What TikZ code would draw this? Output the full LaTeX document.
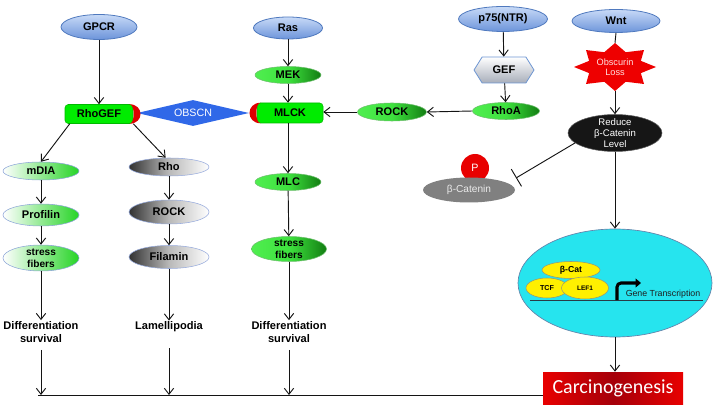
\documentclass[tikz,border=0pt]{standalone}
\usepackage{fontspec}
\setmainfont{Liberation Sans}
\newfontfamily\carlito{Carlito}
\usetikzlibrary{shapes.geometric,shapes.symbols,arrows.meta}

\begin{document}
\begin{tikzpicture}[x=0.75pt,y=0.75pt,yscale=-1,xscale=1,
    lbl/.style={font=\bfseries\fontsize{8.3}{9.8}\selectfont, align=center},
    sml/.style={font=\bfseries\fontsize{7.6}{9}\selectfont, align=center},
    blu/.style={ellipse, draw={rgb, 255:red, 79; green, 121; blue, 190}, line width=0.6pt, top color={rgb, 255:red, 200; green, 218; blue, 247}, bottom color={rgb, 255:red, 108; green, 148; blue, 218}, inner sep=0pt, lbl},
    grn/.style={ellipse, draw={rgb, 255:red, 110; green, 190; blue, 110}, line width=0.4pt, left color={rgb, 255:red, 80; green, 238; blue, 80}, right color={rgb, 255:red, 18; green, 125; blue, 18}, middle color={rgb, 255:red, 62; green, 226; blue, 62}, inner sep=0pt, lbl},
    lgrn/.style={ellipse, draw={rgb, 255:red, 140; green, 165; blue, 215}, line width=0.4pt, left color=white, right color={rgb, 255:red, 38; green, 212; blue, 38}, inner sep=0pt, lbl},
    gry/.style={ellipse, draw={rgb, 255:red, 150; green, 170; blue, 220}, line width=0.4pt, left color={rgb, 255:red, 50; green, 50; blue, 50}, right color=white, middle color={rgb, 255:red, 185; green, 185; blue, 185}, inner sep=0pt, lbl},
    gbox/.style={rectangle, rounded corners=2.5pt, fill={rgb, 255:red, 0; green, 236; blue, 0}, draw={rgb, 255:red, 0; green, 185; blue, 0}, line width=0.4pt, inner sep=0pt, lbl},
    redcap/.style={fill={rgb, 255:red, 222; green, 0; blue, 0}},
    hexa/.style={signal, signal to=east and west, signal pointer angle=116, draw={rgb, 255:red, 110; green, 150; blue, 210}, line width=0.6pt, top color=white, bottom color={rgb, 255:red, 168; green, 174; blue, 186}, inner sep=0pt, lbl},
    yel/.style={ellipse, fill={rgb, 255:red, 255; green, 240; blue, 0}, draw={rgb, 255:red, 150; green, 150; blue, 120}, line width=0.4pt, inner sep=0pt},
    txt/.style={font=\bfseries\fontsize{8.3}{9.8}\selectfont, align=center, inner sep=0.75pt},
    arr/.style={draw={rgb, 255:red, 20; green, 20; blue, 20}, line width=0.7pt, -{Straight Barb[length=4.5pt,width=7pt]}},
    inhib/.style={draw={rgb, 255:red, 20; green, 20; blue, 20}, line width=0.7pt, -{Bar[width=15pt]}}
  ]
\useasboundingbox (0,0) rectangle (716,409);

%Shape: Diamond
\draw (193,113) node [diamond, fill={rgb, 255:red, 48; green, 104; blue, 232}, inner sep=0pt, minimum width=84pt, minimum height=19.5pt, label={[font=\fontsize{8}{9}\selectfont, text=white]center:OBSCN}] (obscn) {};

%Shape: Ellipse
\draw (99,27) node [blu, minimum width=57pt, minimum height=18.75pt] (gpcr) {GPCR};
\draw (288,28) node [blu, minimum width=51.75pt, minimum height=16.5pt] (ras) {Ras};
\draw (503,19) node [blu, minimum width=66.75pt, minimum height=18.75pt] (p75) {p75(NTR)};
\draw (616,21) node [blu, minimum width=66pt, minimum height=17.25pt] (wnt) {Wnt};

%Shape: Rounded Rect
\draw (99,114) node [gbox, minimum width=51pt, minimum height=14.25pt] (rhogef) {RhoGEF};
\draw (290,113) node [gbox, minimum width=49.5pt, minimum height=15pt] (mlck) {MLCK};
\fill [redcap] ([xshift=-3pt]rhogef.north east) .. controls +(15,0) and +(15,0) .. ([xshift=-3pt]rhogef.south east) .. controls +(6,0) and +(6,0) .. cycle;
\fill [redcap] ([xshift=3pt]mlck.north west) .. controls +(-15,0) and +(-15,0) .. ([xshift=3pt]mlck.south west) .. controls +(-6,0) and +(-6,0) .. cycle;

%Shape: Ellipse
\draw (41,171) node [lgrn, minimum width=57pt, minimum height=13.5pt] (mdia) {mDIA};
\draw (41,215) node [lgrn, minimum width=57pt, minimum height=16.5pt] (prof) {Profilin};
\draw (41,258) node [lgrn, minimum width=57pt, minimum height=19.5pt, label={[sml]center:stress\\fibers}] (sf1) {};

\draw (169,167) node [gry, minimum width=60pt, minimum height=13.5pt] (rho) {Rho};
\draw (169,212) node [gry, minimum width=60pt, minimum height=18pt] (rock1) {ROCK};
\draw (169,257) node [gry, minimum width=60pt, minimum height=17.25pt] (fil) {Filamin};

\draw (288,75) node [grn, minimum width=49.5pt, minimum height=12.75pt] (mek) {MEK};
\draw (288,182) node [grn, minimum width=49.5pt, minimum height=12.75pt] (mlc) {MLC};
\draw (289,249) node [grn, minimum width=56.25pt, minimum height=18.75pt, label={[sml]center:stress\\fibers}] (sf2) {};

%Shape: Hexagon
\draw (504,70) node [hexa, minimum width=45pt, minimum height=19.5pt] (gef) {GEF};
\draw (506,111) node [grn, minimum width=50.25pt, minimum height=12.75pt] (rhoa) {RhoA};
\draw (392,112) node [grn, minimum width=51.75pt, minimum height=13.5pt] (rock2) {ROCK};

%Shape: Star
\draw (615,67) node [minimum width=61.5pt, minimum height=36pt, inner sep=0pt] (obl) {};
\fill [fill={rgb, 255:red, 238; green, 0; blue, 0}, shift={(615,67)}] (0:41 and 24) \foreach \k in {0,...,7}{ -- ({\k*45+22.5}:28 and 16) -- ({\k*45+45}:41 and 24) } -- cycle;
\draw (obl) node [font=\fontsize{6.9}{7.6}\selectfont, align=center, text={rgb, 255:red, 255; green, 222; blue, 222}] {Obscurin\\Loss};

\draw (615,133) node [ellipse, fill={rgb, 255:red, 22; green, 22; blue, 22}, draw={rgb, 255:red, 90; green, 90; blue, 90}, line width=0.4pt, inner sep=0pt, minimum width=70.5pt, minimum height=27.75pt, label={[font=\fontsize{7.2}{8}\selectfont, align=center, text=white]center:Reduce\\β-Catenin\\Level}] (red) {};

%Shape: Circle
\draw (475,168) node [circle, fill={rgb, 255:red, 232; green, 0; blue, 0}, inner sep=0pt, minimum size=21pt, text=white, font=\fontsize{8}{9}\selectfont] (pc) {P};
\draw (469,190) node [ellipse, fill={rgb, 255:red, 128; green, 128; blue, 128}, inner sep=0pt, minimum width=69pt, minimum height=18.75pt, text={rgb, 255:red, 235; green, 235; blue, 235}, font=\fontsize{7.6}{9}\selectfont] (bcat) {β-Catenin};

%Shape: Ellipse (nucleus)
\draw (615,283) node [ellipse, fill={rgb, 255:red, 38; green, 228; blue, 238}, draw={rgb, 255:red, 100; green, 130; blue, 170}, line width=0.5pt, inner sep=0pt, minimum width=145.5pt, minimum height=81pt] (nuc) {};
\draw (571,270) node [yel, minimum width=43.5pt, minimum height=12.75pt, font=\bfseries\fontsize{6.5}{7}\selectfont] (bcat2) {β-Cat};
\draw (547,288) node [yel, minimum width=31.5pt, minimum height=15pt, font=\bfseries\fontsize{5.4}{6}\selectfont] (tcf) {TCF};
\draw (585,288) node [yel, minimum width=35.25pt, minimum height=16.5pt, font=\bfseries\fontsize{4.9}{6}\selectfont] (lef) {LEF1};
\coordinate (nl) at (530,300);
\coordinate (nr) at (703,300);
\coordinate (gt0) at (617,300);
\coordinate (gt1) at (641,283);
\draw [draw={rgb, 255:red, 40; green, 60; blue, 70}, line width=0.5pt] (nl) -- (nr);
\draw [line width=2.3pt, rounded corners=3pt, -{Triangle[length=4pt,width=6.5pt]}] (gt0) |- (gt1);
% Text Node
\draw (663,294) node [font=\fontsize{6.6}{8}\selectfont, text={rgb, 255:red, 30; green, 30; blue, 30}] (gtx) {Gene Transcription};

%Shape: Rectangle
\draw (613,388) node [rectangle, left color={rgb, 255:red, 232; green, 0; blue, 0}, right color={rgb, 255:red, 232; green, 0; blue, 0}, middle color={rgb, 255:red, 165; green, 0; blue, 10}, minimum width=105pt, minimum height=24pt, inner sep=0pt, text=white, font=\carlito\fontsize{15}{18}\selectfont] (carc) {Carcinogenesis};

% Text Node
\draw (41,332) node [txt] (diff1) {Differentiation\\survival};
\draw (169,327) node [txt] (lam) {Lamellipodia};
\draw (289,332) node [txt] (diff2) {Differentiation\\survival};

\coordinate (base) at (38,395);

%Straight Lines
\draw [arr] (gpcr.south) -- (gpcr.south |- rhogef.north);
\draw [arr] ([xshift=3.75pt]rhogef.south west) -- (mdia.north);
\draw [arr] (rhogef.south east) -- (rho.110);
\draw [arr] (mdia) -- (prof);
\draw [arr] (prof) -- (sf1);
\draw [arr] (sf1) -- (diff1);
\draw [arr] (rho) -- (rock1);
\draw [arr] (rock1) -- (fil);
\draw [arr] (fil) -- (lam);
\draw [arr] (ras) -- (mek);
\draw [arr] (mek.south) -- (mek.south |- mlck.north);
\draw [arr] (mlc.north |- mlck.south) -- (mlc.north);
\draw [arr] (mlc) -- (sf2);
\draw [arr] (sf2) -- (diff2);
\draw [arr] (p75) -- (gef);
\draw [arr] (gef) -- (rhoa);
\draw [arr] (rhoa.west) -- (rock2.east);
\draw [arr] (rock2.west) -- (rock2.west -| mlck.east);
\draw [draw={rgb, 255:red, 20; green, 20; blue, 20}, line width=0.7pt] (wnt.south) -- (obl.north);
\draw [arr] (obl.south) -- (red.north);
\coordinate (inh) at (516,178);
\draw [inhib] (red.194) -- (inh);
\draw [arr] (red.south) -- (nuc.north);
\draw [arr] (nuc.south) -- (nuc.south |- carc.north);

\draw [draw={rgb, 255:red, 20; green, 20; blue, 20}, line width=0.7pt] (base) -- (carc.west |- base);
\draw [arr, shorten <=4.5pt] (diff1.south) -- (diff1.south |- base);
\draw [arr, shorten <=11pt] (lam.south) -- (lam.south |- base);
\draw [arr, shorten <=4.5pt] (diff2.south) -- (diff2.south |- base);

\end{tikzpicture}
\end{document}
